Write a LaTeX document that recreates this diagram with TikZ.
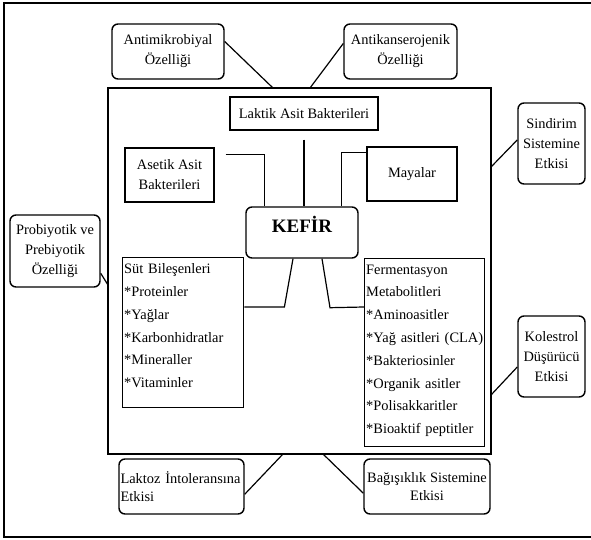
\documentclass[tikz,border=0pt]{standalone}
\usepackage{fontspec}
\setmainfont{Liberation Serif}
\usetikzlibrary{calc}

\tikzset{
    ozellik/.style={draw, line width=1.4pt, rounded corners=6pt, align=center, inner sep=1pt, font=\fontsize{14.4}{20}\selectfont},
    kaynak/.style={draw, line width=1.4pt, align=center, inner sep=1pt, font=\fontsize{14.4}{20}\selectfont},
    icerik/.style={draw, line width=1.4pt, align=left, anchor=north west, inner xsep=1.5pt, inner ysep=6pt, font=\fontsize{14.4}{22.8}\selectfont},
    bag/.style={line width=1.2pt},
}

\begin{document}
\begin{tikzpicture}[x=1pt, y=-1pt]
        \useasboundingbox (0,0) rectangle (591,540);
        \draw[line width=2.4pt] (4,3) rectangle (598,537);
        \node[draw, line width=2.4pt, minimum width=383pt, minimum height=366pt, inner sep=0pt] (cerceve) at (299.5,271) {};
        
        % merkez
        \node[ozellik, minimum width=112pt, minimum height=51pt, inner sep=0pt, text height=14pt, text depth=14pt, font=\fontsize{19}{22}\selectfont\bfseries] (kefir) at (302,232.5) {KEFİR};
        
        \node[kaynak, minimum width=148pt, minimum height=33pt] (laktik) at (304,113.5) {Laktik Asit Bakterileri};
        \node[kaynak, minimum width=89pt, minimum height=54pt] (asetik) at (169.5,175) {Asetik Asit\\Bakterileri};
        \node[kaynak, minimum width=90pt, minimum height=54pt] (mayalar) at (412,174) {Mayalar};
        
        \node[icerik, text width=118pt] (sut) at (122,257) {Süt Bileşenleri\\{}*Proteinler\\{}*Yağlar\\{}*Karbonhidratlar\\{}*Mineraller\\{}*Vitaminler\\[-9pt]\mbox{}};
        \node[icerik, text width=117pt] (ferm) at (364,258) {Fermentasyon\\Metabolitleri\\{}*Aminoasitler\\{}*Yağ~asitleri~(CLA)\\{}*Bakteriosinler\\{}*Organik asitler\\{}*Polisakkaritler\\{}*Bioaktif peptitler\\[-16pt]\mbox{}};
        
        \draw[bag, shorten <=9pt] (laktik.south) -- (laktik.south |- kefir.north);
        \draw[bag] ([shift={(11,7)}]asetik.north east) -| ([xshift=19pt]kefir.north west);
        \draw[bag] ([yshift=-6pt]mayalar.north west) -| ([xshift=-17pt]kefir.north east);
        \draw[bag] ([yshift=-50pt]sut.north east) -- ++(40,0) -- ([xshift=-9pt]kefir.south);
        \draw[bag] ([xshift=20pt]kefir.south) -- ++(8,49) -- ([yshift=-49pt]ferm.north west);
        
        % etkiler
        \node[ozellik, minimum width=112pt, minimum height=55pt] (antimik) at (168,51.5) {Antimikrobiyal\\Özelliği};
        \node[ozellik, minimum width=113pt, minimum height=55pt] (antikans) at (400.5,51.5) {Antikanserojenik\\Özelliği};
        \node[ozellik, minimum width=67pt, minimum height=81pt] (sindirim) at (551.5,143.5) {Sindirim\\Sistemine\\Etkisi};
        \node[ozellik, minimum width=67pt, minimum height=81pt] (kolestrol) at (551.5,356.5) {Kolestrol\\Düşürücü\\Etkisi};
        \node[ozellik, minimum width=90pt, minimum height=72pt] (probiyo) at (55,251) {Probiyotik ve\\Prebiyotik\\Özelliği};
        \node[ozellik, align=left, text width=122pt, inner xsep=1.5pt, minimum height=55pt, font=\fontsize{14.4}{18.6}\selectfont] (laktoz) at (181.5,486.5) {Laktoz İntoleransına\\Etkisi};
        \node[ozellik, minimum width=126pt, minimum height=55pt, font=\fontsize{14.4}{18.6}\selectfont] (bagisik) at (427,486.5) {Bağışıklık Sistemine\\Etkisi};
        
        \coordinate (c1) at (273,88);
        \coordinate (c2) at (310,88);
        \coordinate (c3) at (491,167);
        \coordinate (c4) at (491,395);
        \coordinate (c5) at (108,285);
        \coordinate (c6) at (283,454);
        \coordinate (c7) at (323,454);
        
        \draw[bag] (antimik.10) -- (c1);
        \draw[bag] (antikans.172) -- (c2);
        \draw[bag] (sindirim.174) -- (c3);
        \draw[bag] (kolestrol.197) -- (c4);
        \draw[bag] (probiyo.334) -- (c5);
        \draw[bag] (laktoz.353) -- (c6);
        \draw[bag] (bagisik.186) -- (c7);
        
    \end{tikzpicture}
\end{document}
